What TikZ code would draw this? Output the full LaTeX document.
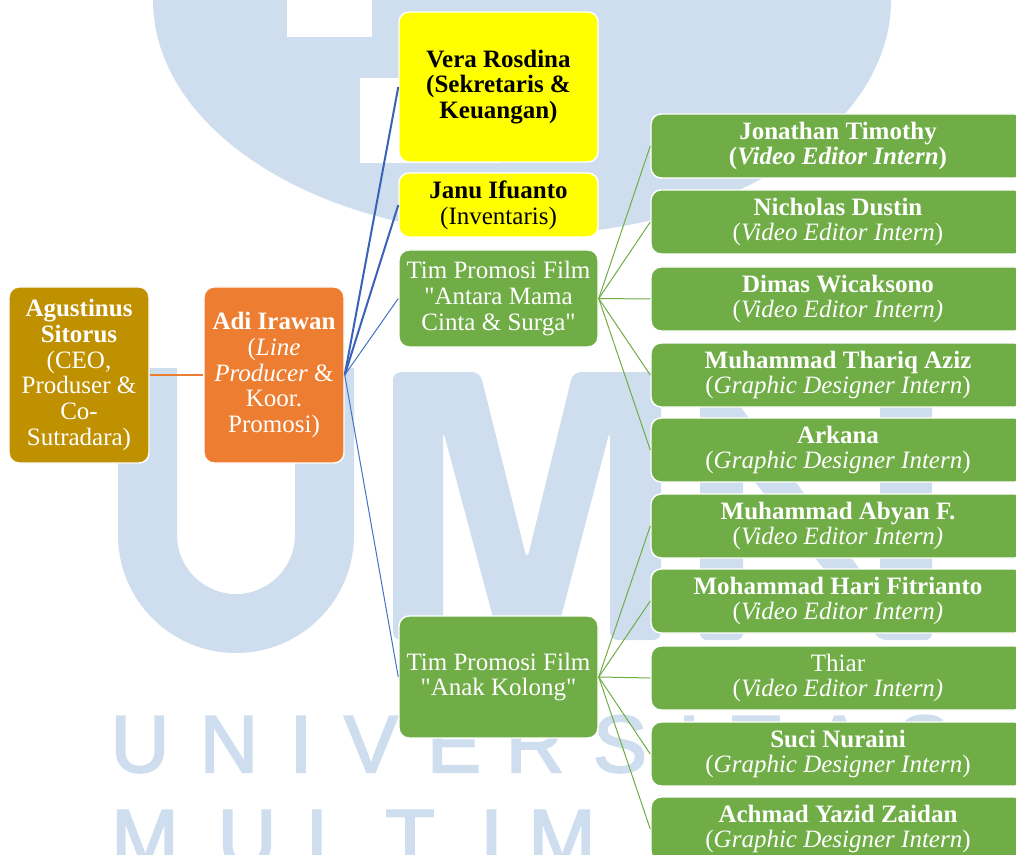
\documentclass[tikz,border=0pt]{standalone}
\usepackage{fontspec}
\setmainfont{Liberation Serif}
\newfontfamily\wmfont[FakeBold=2.5]{Liberation Sans}
\definecolor{wm}{RGB}{207,222,238}
\definecolor{gold}{HTML}{BF9000}
\definecolor{orng}{HTML}{ED7D31}
\definecolor{yell}{HTML}{FFFF00}
\definecolor{grn}{HTML}{70AD47}
\definecolor{blu}{HTML}{4472C4}
\definecolor{bludark}{HTML}{3A62B8}
\newcommand\boxfont{\fontsize{18.75pt}{19.3pt}\selectfont}
\newcommand\wmletters{\wmfont\fontsize{60.75pt}{60.75pt}\selectfont}
\tikzset{
  box/.style={rounded corners=7.5pt, draw=white, line width=1.1pt, inner sep=0pt,
    align=center, font=\boxfont},
  goldbox/.style={box, fill=gold, text=white, minimum width=105pt, minimum height=132pt},
  orangebox/.style={box, fill=orng, text=white, minimum width=105pt, minimum height=132pt},
  yellowbox/.style={box, fill=yell, text=black, minimum width=149.25pt},
  midgreen/.style={box, fill=grn, text=white, minimum width=149.25pt},
  rightbox/.style={box, fill=grn, text=white, minimum width=280.5pt, minimum height=48pt},
  wmtext/.style={font=\wmletters, text=wm, inner sep=0pt, anchor=base},
  orangeline/.style={draw=orng, line width=0.8pt},
  bluethick/.style={draw=bludark, line width=1.5pt},
  bluethin/.style={draw=blu, line width=0.75pt},
  greenline/.style={draw=grn, line width=0.75pt}
}
\begin{document}
\begin{tikzpicture}[x=0.75pt,y=-0.75pt]
\useasboundingbox (0,0) rectangle (1016,855);
\clip (0,0) rectangle (1016,855);
% watermark
\fill[wm] (522,0) ellipse [x radius=276.75pt, y radius=176.25pt];
\fill[white] (287,0) rectangle (372,37);
\fill[white] (360,78) rectangle (500,163);
\draw[wm, line width=44.25pt] (147.5,368) -- (147.5,535) arc[start angle=180, end angle=360, radius=66.375pt] -- (324.5,368);
\fill[wm, rounded corners=6pt] (393,372) -- (480,372) -- (527,560) -- (573,372) -- (661,372) -- (661,640) -- (610,640) -- (610,430) -- (555,640) -- (499,640) -- (443,430) -- (443,640) -- (393,640) -- cycle;
\fill[wm, rounded corners=5pt] (700,372) -- (715,372) -- (880,597) -- (880,372) -- (932,372) -- (932,640) -- (880,640) -- (743,467) -- (743,640) -- (700,640) -- cycle;
\foreach [count=\i] \c/\x in {U/140,N/229,I/301,V/371,E/454,R/535,S/620,I/689,T/756,A/839,S/924}
  \node[wmtext] (wmA\i) at (\x,772) {\c};
\foreach [count=\i] \c/\x in {M/145,U/247,L/329,T/410,I/491.5,M/562}
  \node[wmtext] (wmB\i) at (\x,866) {\c};
% boxes
\node[goldbox] (ag) at (79,375) {\textbf{Agustinus}\\\textbf{Sitorus}\\(CEO,\\Produser \&\\Co-\\Sutradara)};
\node[orangebox] (adi) at (274,375) {\textbf{Adi Irawan}\\(\textit{Line}\\\textit{Producer} \&\\Koor.\\Promosi)};
\node[yellowbox, minimum height=112.5pt] (vera) at (498.5,87) {\textbf{Vera Rosdina}\\\textbf{(Sekretaris \&}\\\textbf{Keuangan)}};
\node[yellowbox, minimum height=48pt] (janu) at (498.5,205) {\textbf{Janu Ifuanto}\\(Inventaris)};
\node[midgreen, minimum height=72.75pt] (tim1) at (498.5,298.5) {Tim Promosi Film\\\textquotedbl Antara Mama\\Cinta \& Surga\textquotedbl};
\node[midgreen, minimum height=91.5pt] (tim2) at (498.5,677) {Tim Promosi Film\\\textquotedbl Anak Kolong\textquotedbl};
\node[rightbox] (jon) at (838,146) {\textbf{Jonathan Timothy}\\\textbf{(\textit{Video Editor Intern})}};
\node[rightbox] (nic) at (838,222) {\textbf{Nicholas Dustin}\\(\textit{Video Editor Intern})};
\node[rightbox] (dim) at (838,299) {\textbf{Dimas Wicaksono}\\(\textit{Video Editor Intern)}};
\node[rightbox] (tha) at (838,375) {\textbf{Muhammad Thariq Aziz}\\(\textit{Graphic Designer Intern})};
\node[rightbox] (ark) at (838,450) {\textbf{Arkana}\\(\textit{Graphic Designer Intern})};
\node[rightbox] (aby) at (838,526) {\textbf{Muhammad Abyan F.}\\(\textit{Video Editor Intern)}};
\node[rightbox] (har) at (838,601) {\textbf{Mohammad Hari Fitrianto}\\(\textit{Video Editor Intern)}};
\node[rightbox] (thi) at (838,678) {Thiar\\(\textit{Video Editor Intern)}};
\node[rightbox] (suc) at (838,754) {\textbf{Suci Nuraini}\\(\textit{Graphic Designer Intern})};
\node[rightbox] (ach) at (838,829) {\textbf{Achmad Yazid Zaidan}\\(\textit{Graphic Designer Intern})};
% connectors
\draw[orangeline] (ag.east) -- (adi.west);
\draw[bluethick] (adi.east) -- (vera.west);
\draw[bluethick] (adi.east) -- (janu.west);
\draw[bluethin] (adi.east) -- (tim1.west);
\draw[bluethin] (adi.east) -- (tim2.west);
\foreach \n in {jon,nic,dim,tha,ark} \draw[greenline] (tim1.east) -- (\n.west);
\foreach \n in {aby,har,thi,suc,ach} \draw[greenline] (tim2.east) -- (\n.west);
\end{tikzpicture}
\end{document}
